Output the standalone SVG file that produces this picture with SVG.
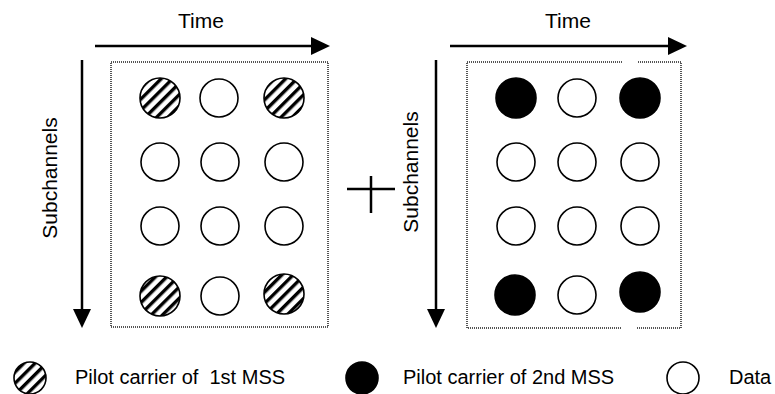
<svg xmlns="http://www.w3.org/2000/svg" width="775" height="394" viewBox="0 0 775 394">
  <defs>
    <pattern id="hatch" patternUnits="userSpaceOnUse" width="8" height="8" patternTransform="rotate(45)">
      <rect width="8" height="8" fill="#fff"/>
      <rect x="0" y="0" width="3.4" height="8" fill="#000"/>
    </pattern>
  </defs>
  <style>
    .lbl { font-family: "Liberation Sans", Arial, sans-serif; font-size: 21px; fill: #000; }
    .key { font-family: "Liberation Sans", Arial, sans-serif; font-size: 20px; fill: #000; }
    .axis { stroke: #000; stroke-width: 2.5; fill: none; }
    .frame { stroke: #555; stroke-width: 2; stroke-dasharray: 1 1; fill: none; }
    .data { fill: #fff; stroke: #000; stroke-width: 1.6; }
    .p1 { fill: url(#hatch); stroke: #000; stroke-width: 1.6; }
    .p2 { fill: #000; stroke: #000; stroke-width: 1.6; }
  </style>
  <rect width="775" height="394" fill="#fff"/>

  <!-- axes and the plus sign -->
  <g id="connectors">
    <line class="axis" x1="95" y1="46" x2="312" y2="46"/>
    <path d="M311,37 L330,46 L311,55 Z"/>
    <line class="axis" x1="82" y1="60" x2="82" y2="310"/>
    <path d="M73,309 L82,328 L91,309 Z"/>
    <line class="axis" x1="450" y1="46" x2="669" y2="46"/>
    <path d="M668,37 L687,46 L668,55 Z"/>
    <line class="axis" x1="436" y1="60" x2="436" y2="310"/>
    <path d="M427,309 L436,328 L445,309 Z"/>
    <line x1="347" y1="189" x2="395" y2="189" stroke="#000" stroke-width="2.5"/>
    <line x1="371" y1="176" x2="371" y2="213" stroke="#000" stroke-width="2.5"/>
  </g>

  <g id="frame-left">
    <rect class="frame" x="111" y="62" width="217" height="265"/>
  </g>
  <g id="frame-right">
    <path class="frame" d="M622,62 H467 V328 H622 M637,328 H681 V62 H637"/>
  </g>

  <g id="labels">
    <text class="lbl" x="201" y="28" text-anchor="middle">Time</text>
    <text class="lbl" x="568" y="28" text-anchor="middle">Time</text>
    <text class="lbl" transform="translate(57,178) rotate(-90)" text-anchor="middle">Subchannels</text>
    <text class="lbl" transform="translate(418,172) rotate(-90)" text-anchor="middle">Subchannels</text>
  </g>

  <!-- left grid: 1st MSS pilots -->
  <g id="grid-left">
    <circle class="p1" cx="160" cy="98" r="20"/>
    <circle class="data" cx="219" cy="98" r="19"/>
    <circle class="p1" cx="284" cy="98" r="20"/>
    <circle class="data" cx="160" cy="162" r="19"/>
    <circle class="data" cx="220" cy="162" r="19"/>
    <circle class="data" cx="284" cy="162" r="19"/>
    <circle class="data" cx="160" cy="226" r="19"/>
    <circle class="data" cx="220" cy="226" r="19"/>
    <circle class="data" cx="284" cy="226" r="19"/>
    <circle class="p1" cx="160" cy="296" r="20"/>
    <circle class="data" cx="220" cy="296" r="19"/>
    <circle class="p1" cx="284" cy="294" r="20"/>
  </g>

  <!-- right grid: 2nd MSS pilots -->
  <g id="grid-right">
    <circle class="p2" cx="516" cy="98" r="20"/>
    <circle class="data" cx="577" cy="98" r="19"/>
    <circle class="p2" cx="640" cy="98" r="20"/>
    <circle class="data" cx="516" cy="162" r="19"/>
    <circle class="data" cx="577" cy="162" r="19"/>
    <circle class="data" cx="640" cy="162" r="19"/>
    <circle class="data" cx="516" cy="226" r="19"/>
    <circle class="data" cx="577" cy="226" r="19"/>
    <circle class="data" cx="640" cy="226" r="19"/>
    <circle class="p2" cx="515" cy="295" r="20"/>
    <circle class="data" cx="577" cy="295" r="19"/>
    <circle class="p2" cx="640" cy="292" r="20"/>
  </g>

  <!-- legend -->
  <g id="legend">
    <circle class="p1" cx="30" cy="378" r="16"/>
    <text class="key" x="75" y="384" xml:space="preserve">Pilot carrier of  1st MSS</text>
    <circle class="p2" cx="362" cy="378" r="16"/>
    <text class="key" x="403" y="384">Pilot carrier of 2nd MSS</text>
    <circle class="data" cx="683" cy="378" r="16"/>
    <text class="key" x="729" y="384">Data</text>
  </g>
</svg>
